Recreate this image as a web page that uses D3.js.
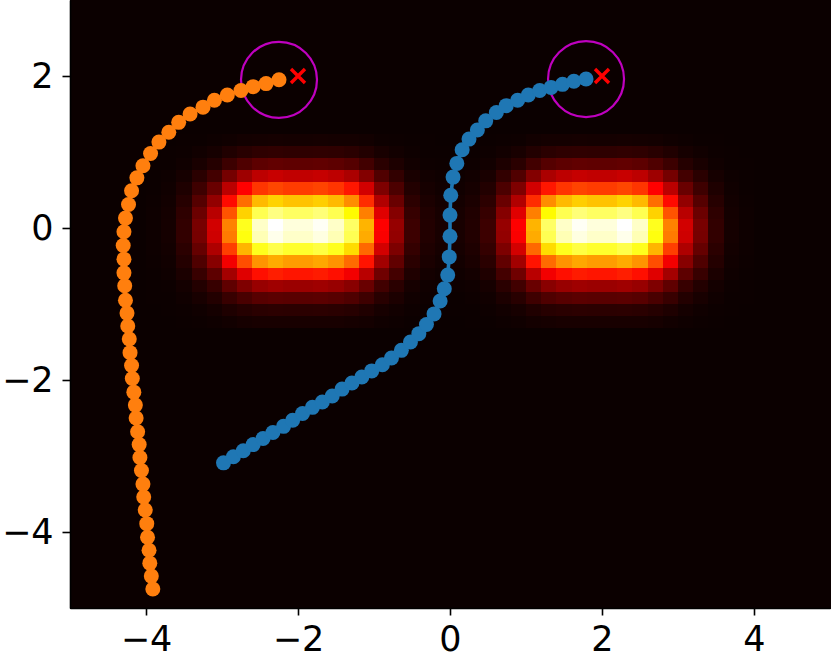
<!DOCTYPE html>
<html>
<head>
<meta charset="utf-8">
<script src="https://cdn.jsdelivr.net/npm/d3@7"></script>
<style>
  body { margin: 0; background: #fff; }
  svg { display: block; font-family: "DejaVu Sans", sans-serif; }
</style>
</head>
<body>
<div id="chart"></div>
<script>
// axis ticks
const xTicks = [-4, -2, 0, 2, 4];
const yTicks = [-4, -2, 0, 2];

// heat field: 50 x 50 grid over x [-5,5], y [3,-5]; left half given, right half is its mirror
const gridIds = d3.range(50);
const heatRowIds = [11, 12, 13, 14, 15, 16, 17, 18, 19, 20, 21, 22, 23, 24, 25, 26];
const heatColIds = [5, 6, 7, 8, 9, 10, 11, 12, 13, 14, 15, 16, 17, 18, 19, 20, 21, 22, 23, 24];
const heatValues = [
  [0, 0, .001, .002, .004, .008, .012, .014, .015, .014, .014, .015, .014, .013, .010, .005, .003, .001, .001, 0],
  [0, .001, .003, .009, .016, .031, .043, .052, .055, .053, .053, .054, .052, .047, .035, .020, .011, .004, .002, .001],
  [.001, .002, .008, .021, .039, .073, .101, .123, .130, .125, .125, .129, .123, .110, .082, .047, .027, .010, .005, .003],
  [.001, .004, .017, .046, .084, .158, .220, .267, .283, .273, .273, .280, .267, .239, .179, .103, .059, .021, .010, .006],
  [.002, .007, .028, .077, .140, .263, .365, .444, .470, .454, .454, .465, .444, .398, .298, .172, .098, .035, .016, .009],
  [.003, .010, .040, .111, .203, .380, .528, .643, .680, .656, .656, .673, .643, .575, .431, .248, .141, .050, .024, .014],
  [.004, .013, .052, .143, .261, .489, .679, .827, .875, .844, .844, .866, .827, .740, .555, .319, .182, .065, .031, .018],
  [.005, .015, .059, .163, .298, .559, .776, .945, 1.0, .965, .965, .990, .945, .846, .634, .365, .208, .074, .035, .020],
  [.005, .015, .058, .160, .292, .548, .760, .926, .980, .946, .946, .970, .926, .829, .621, .358, .204, .073, .034, .020],
  [.004, .012, .048, .134, .244, .458, .636, .775, .820, .791, .791, .812, .775, .694, .520, .299, .171, .061, .029, .016],
  [.003, .009, .037, .101, .185, .347, .481, .586, .620, .598, .598, .614, .586, .525, .393, .226, .129, .046, .022, .012],
  [.002, .006, .024, .067, .122, .229, .318, .387, .410, .396, .396, .406, .387, .347, .260, .150, .085, .030, .014, .008],
  [.001, .003, .013, .036, .066, .125, .173, .211, .223, .215, .215, .221, .211, .189, .141, .081, .046, .017, .008, .004],
  [.001, .002, .007, .020, .036, .067, .093, .113, .120, .116, .116, .119, .113, .102, .076, .044, .025, .009, .004, .002],
  [0, .001, .003, .008, .015, .028, .039, .047, .050, .048, .048, .050, .047, .042, .032, .018, .010, .004, .002, .001],
  [0, 0, .001, .003, .006, .011, .016, .019, .020, .019, .019, .020, .019, .017, .013, .007, .004, .001, .001, 0]
];

// descent paths
const blueX = [-2.98, -2.85, -2.72, -2.59, -2.46, -2.33, -2.19, -2.07, -1.94, -1.81, -1.68, -1.55, -1.42, -1.29, -1.16,
  -1.03, -0.89, -0.77, -0.64, -0.52, -0.41, -0.31, -0.21, -0.13, -0.075, -0.03, -0.01, 0.00, 0.00, 0.01,
  0.04, 0.09, 0.16, 0.25, 0.36, 0.47, 0.61, 0.74, 0.89, 1.03, 1.18, 1.33, 1.48, 1.63, 1.79];
const blueY = [-3.09, -3.01, -2.93, -2.85, -2.77, -2.69, -2.61, -2.53, -2.44, -2.36, -2.29, -2.21, -2.12, -2.04, -1.96,
  -1.88, -1.80, -1.71, -1.61, -1.50, -1.39, -1.27, -1.13, -0.96, -0.80, -0.62, -0.38, -0.11, 0.17, 0.43,
  0.67, 0.85, 1.03, 1.17, 1.29, 1.41, 1.52, 1.61, 1.68, 1.75, 1.81, 1.85, 1.89, 1.93, 1.96];
const orangeX = [-3.91, -3.93, -3.95, -3.96, -3.98, -3.99, -4.01, -4.03, -4.04, -4.06, -4.08, -4.09, -4.11, -4.13, -4.14,
  -4.16, -4.18, -4.19, -4.21, -4.22, -4.24, -4.25, -4.27, -4.28, -4.29, -4.29, -4.30, -4.29, -4.27, -4.23,
  -4.19, -4.12, -4.04, -3.94, -3.83, -3.70, -3.57, -3.42, -3.25, -3.10, -2.93, -2.75, -2.59, -2.42, -2.25];
const orangeY = [-4.75, -4.58, -4.41, -4.24, -4.07, -3.89, -3.71, -3.54, -3.37, -3.19, -3.02, -2.85, -2.68, -2.50, -2.33,
  -2.16, -1.98, -1.81, -1.64, -1.46, -1.29, -1.12, -0.95, -0.76, -0.59, -0.41, -0.23, -0.05, 0.13, 0.31,
  0.49, 0.66, 0.82, 0.98, 1.13, 1.26, 1.39, 1.50, 1.59, 1.68, 1.75, 1.81, 1.86, 1.90, 1.95];

// targets (red x) and tolerance radius around each path end
const targetX = [-2, 2];
const targetY = [2, 2];
const tolRadius = 0.5;

const width = 831, height = 660;
const x = d3.scaleLinear().domain([-5, 5]).range([70, 830]);
const y = d3.scaleLinear().domain([-5, 3]).range([608, 0]);

const svg = d3.select("#chart").append("svg")
  .attr("width", width)
  .attr("height", height);

// hot colormap (matplotlib)
const hot = d3.scaleLinear()
  .domain([0, 0.365079, 0.746032, 1])
  .range(["rgb(11,0,0)", "rgb(255,0,0)", "rgb(255,255,0)", "rgb(255,255,255)"])
  .clamp(true);

// build full grid (row -> col -> value)
const grid = gridIds.map(() => gridIds.map(() => 0));
heatRowIds.forEach((r, i) => {
  heatColIds.forEach((c, j) => {
    grid[r][c] = heatValues[i][j];
    grid[r][49 - c] = heatValues[i][j];
  });
});
const cells = [];
gridIds.forEach(r => gridIds.forEach(c => cells.push({ r, c, v: grid[r][c] })));

const colBand = d3.scaleBand().domain(gridIds).range([x(-5), x(5)]);
const rowBand = d3.scaleBand().domain(gridIds).range([y(3), y(-5)]);

svg.append("g")
  .attr("shape-rendering", "crispEdges")
  .selectAll("rect")
  .data(cells)
  .enter()
  .append("rect")
  .attr("x", d => colBand(d.c))
  .attr("y", d => rowBand(d.r))
  .attr("width", colBand.bandwidth() + 0.5)
  .attr("height", rowBand.bandwidth() + 0.5)
  .attr("fill", d => hot(d.v));

// tolerance circles around path ends
const ends = [
  { x: blueX[blueX.length - 1], y: blueY[blueY.length - 1] },
  { x: orangeX[orangeX.length - 1], y: orangeY[orangeY.length - 1] }
];
svg.append("g")
  .selectAll("circle")
  .data(ends)
  .enter()
  .append("circle")
  .attr("cx", d => x(d.x))
  .attr("cy", d => y(d.y))
  .attr("r", x(tolRadius) - x(0))
  .attr("fill", "none")
  .attr("stroke", "#bf00bf")
  .attr("stroke-width", 2.2);

// paths with markers
const series = [
  { xs: blueX, ys: blueY, color: "#1f77b4" },
  { xs: orangeX, ys: orangeY, color: "#ff7f0e" }
];
const line = d3.line().x(d => x(d[0])).y(d => y(d[1]));

series.forEach(s => {
  const pts = s.xs.map((v, i) => [v, s.ys[i]]);
  svg.append("path")
    .datum(pts)
    .attr("d", line)
    .attr("fill", "none")
    .attr("stroke", s.color)
    .attr("stroke-width", 3.6);
  svg.append("g")
    .selectAll("circle")
    .data(pts)
    .enter()
    .append("circle")
    .attr("cx", d => x(d[0]))
    .attr("cy", d => y(d[1]))
    .attr("r", 7.5)
    .attr("fill", s.color);
});

// red x markers
const xs = 7;
svg.append("g")
  .selectAll("path")
  .data(targetX.map((v, i) => [v, targetY[i]]))
  .enter()
  .append("path")
  .attr("d", d => {
    const cx = x(d[0]), cy = y(d[1]);
    return `M${cx - xs},${cy - xs}L${cx + xs},${cy + xs}M${cx - xs},${cy + xs}L${cx + xs},${cy - xs}`;
  })
  .attr("stroke", "#ff0000")
  .attr("stroke-width", 3.4)
  .attr("fill", "none");

// axes
const xAxis = svg.append("g")
  .attr("transform", `translate(0,${y(-5)})`)
  .call(d3.axisBottom(x).tickValues(xTicks).tickSize(7.5).tickPadding(11).tickSizeOuter(0));
const yAxis = svg.append("g")
  .attr("transform", `translate(${x(-5)},0)`)
  .call(d3.axisLeft(y).tickValues(yTicks).tickSize(7.5).tickPadding(9).tickSizeOuter(0));

[xAxis, yAxis].forEach(g => {
  g.selectAll(".domain").attr("stroke", "#000").attr("stroke-width", 1.6);
  g.selectAll(".tick line").attr("stroke", "#000").attr("stroke-width", 1.6);
  g.selectAll(".tick text")
    .attr("fill", "#000")
    .style("font-size", "35px")
    .style("font-family", "'DejaVu Sans', sans-serif");
});
</script>
</body>
</html>
